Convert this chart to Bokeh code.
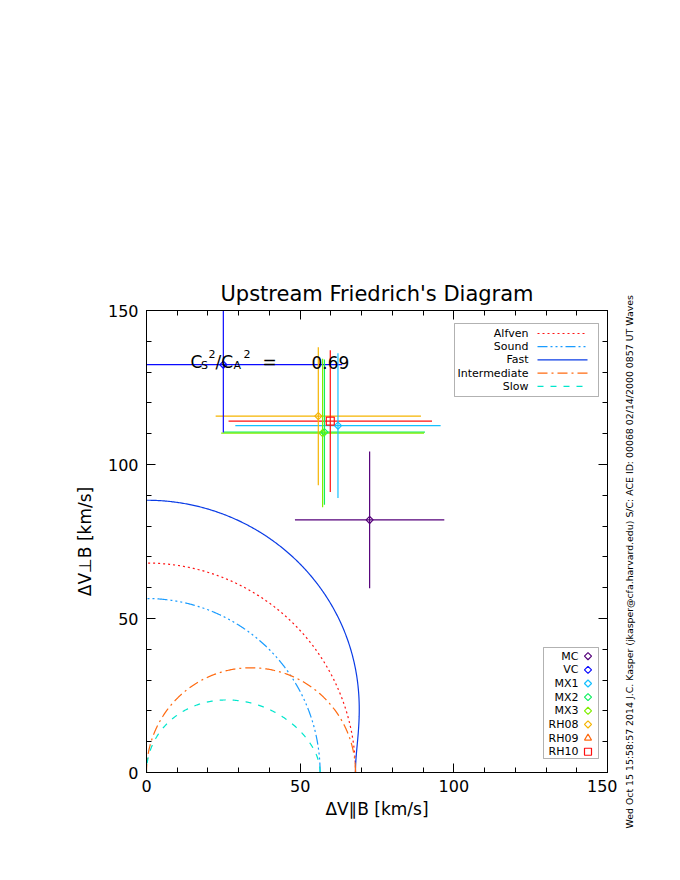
import numpy as np
from bokeh.plotting import figure
from bokeh.layouts import row
from bokeh.models import (Range1d, LinearAxis, SingleIntervalTicker, Label, Title,
                          BoxAnnotation, ColumnDataSource, Grid)
from bokeh.core.properties import value
from bokeh.embed import file_html
from bokeh.resources import INLINE

# ---------------- data ----------------
title_text = "Upstream Friedrich's Diagram"
x_label = "ΔV∥B [km/s]"
y_label = "ΔV⊥B [km/s]"
stamp_text = ("Wed Oct 15 15:58:57 2014   J.C. Kasper (jkasper@cfa.harvard.edu)   "
              "S/C: ACE ID: 00068 02/14/2000   0857 UT Waves")

alfven_speed = 68.0          # km/s (C_A)
cs2_ca2 = 0.69               # C_S^2 / C_A^2
ratio_text = "0.69"

mode_names = ["Alfven", "Sound", "Fast", "Intermediate", "Slow"]

obs_names = ["MC", "VC", "MX1", "MX2", "MX3", "RH08", "RH10"]
obs_x = [72.6, 25.0, 62.3, 57.9, 57.3, 55.9, 59.8]
obs_y = [82.0, 132.4, 112.6, 110.5, 110.2, 115.7, 114.1]
obs_xerr = [24.3, 38.7, 33.4, 32.7, 33.0, 33.4, 33.1]
obs_yerr = [22.2, 22.0, 23.5, 23.6, 24.1, 22.4, 23.0]

legend_names = ["MC", "VC", "MX1", "MX2", "MX3", "RH08", "RH09", "RH10"]

# ---------------- styles ----------------
mode_colors = ["#ff1414", "#1a9cff", "#0a3ce6", "#ff6a10", "#00e6cc"]
mode_dashes = ["2 3", "10 3 2 3 2 3 2 3", "solid", "10 4 2 4", "6 7"]

name_colors = {"MC": "#55007a", "VC": "#0a0aff", "MX1": "#14c0ff", "MX2": "#10f060",
               "MX3": "#80ee00", "RH08": "#f5b400", "RH09": "#ff6a10", "RH10": "#ff1010"}
name_markers = {"MC": "square", "VC": "square", "MX1": "square", "MX2": "square",
                "MX3": "square", "RH08": "square", "RH09": "triangle", "RH10": "square"}
name_angles = {"RH09": 0.0, "RH10": 0.0}

FONT = "DejaVu Sans"

# frame placement (reference pixels) -> data helpers for annotations
FRAME_L, FRAME_T, FRAME_W, FRAME_H = 146, 310, 461, 462
MAIN_W, TOTAL_H = 617, 864
XMAX = YMAX = 150.0


def xd(px):
    return (px - FRAME_L) / FRAME_W * XMAX


def yd(py):
    return (FRAME_T + FRAME_H - py) / FRAME_H * YMAX


p = figure(width=MAIN_W, height=TOTAL_H, x_range=Range1d(0, XMAX), y_range=Range1d(0, YMAX),
           output_backend="svg", toolbar_location=None,
           x_axis_location=None, y_axis_location=None,
           min_border_left=FRAME_L, min_border_top=FRAME_T,
           min_border_right=MAIN_W - FRAME_L - FRAME_W,
           min_border_bottom=TOTAL_H - FRAME_T - FRAME_H)
p.background_fill_color = "white"
p.border_fill_color = "white"
p.outline_line_color = "black"
for g in p.select(type=Grid):
    g.visible = False


def make_axis(labels):
    ax = LinearAxis(ticker=SingleIntervalTicker(interval=50, num_minor_ticks=5))
    ax.major_tick_in = 9
    ax.major_tick_out = 0
    ax.minor_tick_in = 5
    ax.minor_tick_out = 0
    ax.axis_line_color = "black"
    ax.major_tick_line_color = "black"
    ax.minor_tick_line_color = "black"
    ax.major_label_text_font = FONT
    ax.major_label_text_font_size = "16px"
    ax.major_label_text_color = "black"
    ax.axis_label_text_font = FONT
    ax.axis_label_text_font_size = "17px"
    ax.axis_label_text_font_style = "normal"
    ax.axis_label_text_color = "black"
    if not labels:
        ax.major_label_overrides = {0: "", 50: "", 100: "", 150: ""}
        ax.major_label_standoff = 0
    return ax


xb = make_axis(True)
xb.axis_label = x_label
xb.major_label_standoff = 7
xb.axis_label_standoff = 4
p.add_layout(xb, "below")

yl = make_axis(True)
yl.axis_label = y_label
yl.major_label_standoff = 8
yl.axis_label_standoff = 10
p.add_layout(yl, "left")

p.add_layout(make_axis(False), "above")
p.add_layout(make_axis(False), "right")

p.title.text = title_text
p.title.align = "center"
p.title.text_font = FONT
p.title.text_font_size = "21px"
p.title.text_font_style = "normal"
p.title.text_color = "black"

# ---------------- wave-mode curves ----------------
theta = np.linspace(0.0, np.pi / 2, 361)
ca = alfven_speed
cs = ca * np.sqrt(cs2_ca2)
tot = ca ** 2 + cs ** 2
disc = np.sqrt(np.clip(tot ** 2 - 4 * ca ** 2 * cs ** 2 * np.cos(theta) ** 2, 0, None))
speeds = {
    "Alfven": np.full_like(theta, ca),
    "Sound": np.full_like(theta, cs),
    "Fast": np.sqrt((tot + disc) / 2),
    "Intermediate": ca * np.cos(theta),
    "Slow": np.sqrt(np.clip((tot - disc) / 2, 0, None)),
}
for name, col, dash in zip(mode_names, mode_colors, mode_dashes):
    v = speeds[name]
    p.line(v * np.cos(theta), v * np.sin(theta), line_color=col, line_dash=dash, line_width=1.2)

# ---------------- observations with error crosses ----------------
obs = ColumnDataSource(dict(
    x=obs_x, y=obs_y,
    xl=[x - e for x, e in zip(obs_x, obs_xerr)], xr=[x + e for x, e in zip(obs_x, obs_xerr)],
    yl=[y - e for y, e in zip(obs_y, obs_yerr)], yh=[y + e for y, e in zip(obs_y, obs_yerr)],
    color=[name_colors[n] for n in obs_names],
    marker=[name_markers[n] for n in obs_names],
    angle=[name_angles.get(n, np.pi / 4) for n in obs_names],
    size=[8 if n == "RH10" else 5 for n in obs_names],
))
p.segment("xl", "y", "xr", "y", source=obs, line_color="color", line_width=1.2)
p.segment("x", "yl", "x", "yh", source=obs, line_color="color", line_width=1.2)
p.scatter("x", "y", source=obs, marker="marker", angle="angle", size="size",
          fill_color=None, line_color="color", line_width=1.2)

# ---------------- C_S^2 / C_A^2 annotation ----------------
ratio_parts = [("C", 190, 361.7, "17px"), ("S", 200.5, 364.5, "11px"), ("2", 208, 353.5, "11px"),
               ("/C", 215, 361.7, "17px"), ("A", 233, 364.5, "11px"), ("2", 243, 353.5, "11px"),
               ("=", 262, 361.7, "17px"), (ratio_text, 311, 361.7, "17px")]
for txt, px, py, fs in ratio_parts:
    p.add_layout(Label(x=xd(px), y=yd(py), text=txt, text_font=FONT, text_font_size=fs,
                       text_align="left", text_baseline="alphabetic", text_color="black"))

# ---------------- line-style legend (top right) ----------------
p.add_layout(BoxAnnotation(left=xd(454), right=xd(598), top=yd(323), bottom=yd(396),
                           fill_color=None, line_color="black", line_width=1))
row_y = [333 + 13.2 * i for i in range(len(mode_names))]
p.text(x=[xd(528)] * len(mode_names), y=[yd(r) for r in row_y], text=mode_names,
       text_font=value(FONT), text_font_size="11px", text_align="right",
       text_baseline="middle", text_color="black")
for r, col, dash in zip(row_y, mode_colors, mode_dashes):
    p.line([xd(537), xd(587)], [yd(r), yd(r)], line_color=col, line_dash=dash, line_width=1.2)

# ---------------- symbol legend (bottom right) ----------------
p.add_layout(BoxAnnotation(left=xd(543), right=xd(598), top=yd(647), bottom=yd(758),
                           fill_color=None, line_color="black", line_width=1))
srow_y = [655.7 + 13.65 * i for i in range(len(legend_names))]
p.text(x=[xd(578)] * len(legend_names), y=[yd(r) for r in srow_y], text=legend_names,
       text_font=value(FONT), text_font_size="11px", text_align="right",
       text_baseline="middle", text_color="black")
leg = ColumnDataSource(dict(
    x=[xd(587.5)] * len(legend_names), y=[yd(r) for r in srow_y],
    color=[name_colors[n] for n in legend_names],
    marker=[name_markers[n] for n in legend_names],
    angle=[name_angles.get(n, np.pi / 4) for n in legend_names],
    size=[7 if n in ("RH09", "RH10") else 5 for n in legend_names],
))
p.scatter("x", "y", source=leg, marker="marker", angle="angle", size="size",
          fill_color=None, line_color="color", line_width=1.2)

# ---------------- run stamp: left-side title of a narrow side panel ----------------
SIDE_W = 55
side = figure(width=SIDE_W, height=TOTAL_H, output_backend="svg", toolbar_location=None,
              x_axis_location=None, y_axis_location=None,
              min_border_left=17, min_border_right=0, min_border_top=0, min_border_bottom=0)
side.outline_line_color = None
side.background_fill_color = "white"
side.border_fill_color = "white"
for g in side.select(type=Grid):
    g.visible = False
side.add_layout(Title(text=stamp_text, align="left", offset=-56, text_font=FONT,
                      text_font_size="9.4px", text_font_style="normal",
                      text_color="black", standoff=0), "left")

layout = row(p, side, spacing=0)
open("out.html", "w").write(file_html(layout, INLINE))
